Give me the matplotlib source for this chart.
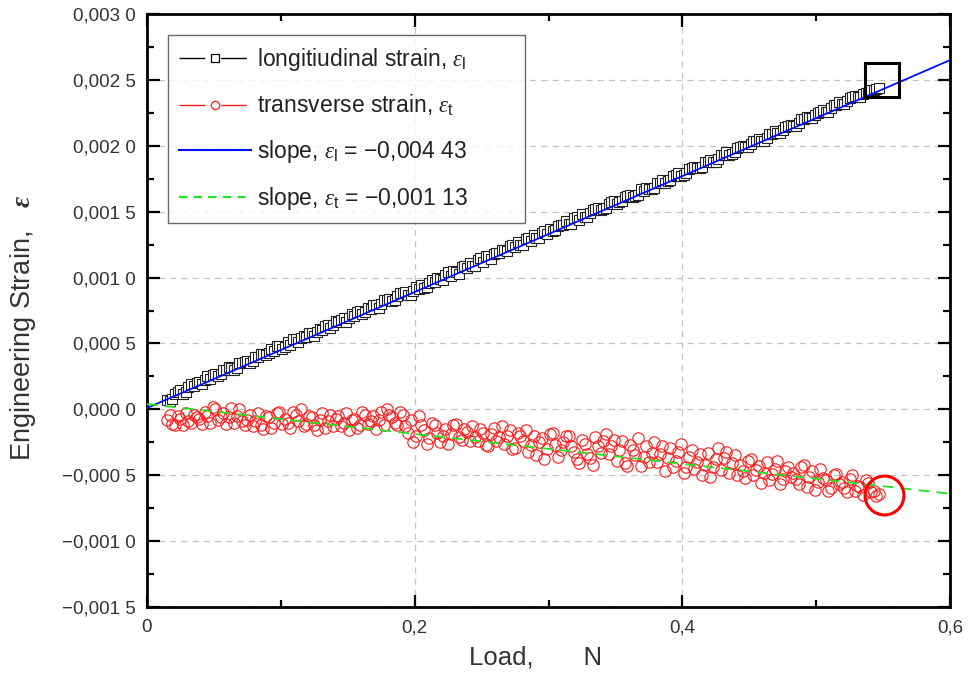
import numpy as np
import matplotlib
matplotlib.use("Agg")
import matplotlib.pyplot as plt
from matplotlib.lines import Line2D
from matplotlib.ticker import FixedLocator, MultipleLocator

plt.rcParams['font.family'] = ['Liberation Sans', 'DejaVu Sans']
plt.rcParams['mathtext.fontset'] = 'custom'
plt.rcParams['mathtext.rm'] = 'Liberation Sans'
plt.rcParams['mathtext.it'] = 'Liberation Serif:italic'
plt.rcParams['mathtext.bf'] = 'Liberation Serif:italic:bold'

# ---------------- data ----------------
# loads of reading set A
load_a = [0.015, 0.019, 0.023, 0.027, 0.031, 0.035, 0.039, 0.043, 0.047, 0.051,
          0.055, 0.059, 0.063, 0.067, 0.071, 0.075, 0.079, 0.083, 0.087, 0.091,
          0.095, 0.099, 0.103, 0.107, 0.111, 0.115, 0.119, 0.123, 0.127, 0.131,
          0.135, 0.139, 0.143, 0.147, 0.151, 0.155, 0.159, 0.163, 0.167, 0.171,
          0.175, 0.179, 0.183, 0.187, 0.191, 0.195, 0.199, 0.203, 0.207, 0.211,
          0.215, 0.219, 0.223, 0.227, 0.231, 0.235, 0.239, 0.243, 0.247, 0.251,
          0.255, 0.259, 0.263, 0.267, 0.271, 0.275, 0.279, 0.283, 0.287, 0.291,
          0.295, 0.299, 0.303, 0.307, 0.311, 0.315, 0.319, 0.323, 0.327, 0.331,
          0.335, 0.339, 0.343, 0.347, 0.351, 0.355, 0.359, 0.363, 0.367, 0.371,
          0.375, 0.379, 0.383, 0.387, 0.391, 0.395, 0.399, 0.403, 0.407, 0.411,
          0.415, 0.419, 0.423, 0.427, 0.431, 0.435, 0.439, 0.443, 0.447, 0.451,
          0.455, 0.459, 0.463, 0.467, 0.471, 0.475, 0.479, 0.483, 0.487, 0.491,
          0.495, 0.499, 0.503, 0.507, 0.511, 0.515, 0.519, 0.523, 0.527, 0.531,
          0.535, 0.539, 0.543, 0.547]

# loads of reading set B
load_b = [0.017, 0.021, 0.025, 0.029, 0.033, 0.037, 0.041, 0.045, 0.049, 0.053,
          0.057, 0.061, 0.065, 0.069, 0.073, 0.077, 0.081, 0.085, 0.089, 0.093,
          0.097, 0.101, 0.105, 0.109, 0.113, 0.117, 0.121, 0.125, 0.129, 0.133,
          0.137, 0.141, 0.145, 0.149, 0.153, 0.157, 0.161, 0.165, 0.169, 0.173,
          0.177, 0.181, 0.185, 0.189, 0.193, 0.197, 0.201, 0.205, 0.209, 0.213,
          0.217, 0.221, 0.225, 0.229, 0.233, 0.237, 0.241, 0.245, 0.249, 0.253,
          0.257, 0.261, 0.265, 0.269, 0.273, 0.277, 0.281, 0.285, 0.289, 0.293,
          0.297, 0.301, 0.305, 0.309, 0.313, 0.317, 0.321, 0.325, 0.329, 0.333,
          0.337, 0.341, 0.345, 0.349, 0.353, 0.357, 0.361, 0.365, 0.369, 0.373,
          0.377, 0.381, 0.385, 0.389, 0.393, 0.397, 0.401, 0.405, 0.409, 0.413,
          0.417, 0.421, 0.425, 0.429, 0.433, 0.437, 0.441, 0.445, 0.449, 0.453,
          0.457, 0.461, 0.465, 0.469, 0.473, 0.477, 0.481, 0.485, 0.489, 0.493,
          0.497, 0.501, 0.505, 0.509, 0.513, 0.517, 0.521, 0.525, 0.529, 0.533,
          0.537, 0.541, 0.545]

# longitudinal strain (units of 1e-4)
longitudinal_a_e4 = [0.7, 0.8, 1.3, 1.2, 1.7, 1.8, 2.1, 2.2, 2.3, 2.7,
                     2.7, 3.0, 3.1, 3.1, 3.5, 3.7, 3.7, 4.0, 4.2, 4.3,
                     4.4, 4.8, 4.7, 4.9, 5.3, 5.4, 5.5, 5.8, 5.9, 6.0,
                     6.4, 6.4, 6.6, 6.9, 6.9, 7.1, 7.5, 7.4, 7.6, 7.9,
                     8.0, 8.3, 8.2, 8.6, 8.8, 8.7, 9.0, 9.1, 9.2, 9.6,
                     9.7, 9.9, 10.2, 10.1, 10.4, 10.8, 10.7, 10.9, 11.3, 11.2,
                     11.6, 11.8, 11.9, 12.1, 12.4, 12.3, 12.5, 12.9, 12.8, 13.0,
                     13.4, 13.3, 13.5, 13.9, 14.0, 14.1, 14.5, 14.4, 14.6, 14.9,
                     15.2, 15.1, 15.3, 15.7, 15.6, 15.8, 16.2, 16.1, 16.3, 16.6,
                     16.7, 16.8, 17.2, 17.2, 17.4, 17.8, 17.7, 17.9, 18.3, 18.3,
                     18.4, 18.8, 18.8, 19.0, 19.3, 19.3, 19.5, 19.9, 19.9, 20.1,
                     20.4, 20.4, 20.6, 20.9, 21.0, 21.2, 21.5, 21.5, 21.7, 22.0,
                     22.1, 22.3, 22.6, 22.6, 22.9, 23.1, 23.2, 23.4, 23.7, 23.7,
                     23.9, 24.0, 24.2, 24.4]
longitudinal_b_e4 = [0.6, 1.2, 1.5, 1.3, 1.9, 2.0, 1.9, 2.5, 2.6, 2.5,
                     3.0, 3.2, 3.0, 3.5, 3.6, 3.5, 4.0, 4.2, 4.1, 4.6,
                     4.8, 4.6, 5.1, 5.3, 5.1, 5.6, 5.8, 5.6, 6.1, 6.3,
                     6.2, 6.7, 6.8, 6.6, 7.2, 7.4, 7.2, 7.7, 7.9, 7.7,
                     8.3, 8.4, 8.3, 8.8, 8.9, 8.7, 9.3, 9.4, 9.3, 9.8,
                     10.0, 9.8, 10.4, 10.5, 10.3, 10.9, 11.1, 10.9, 11.5, 11.6,
                     11.4, 11.9, 12.1, 12.0, 12.5, 12.7, 12.5, 13.0, 13.2, 13.0,
                     13.5, 13.7, 13.6, 14.0, 14.3, 14.1, 14.6, 14.8, 14.6, 15.1,
                     15.3, 15.2, 15.6, 15.8, 15.7, 16.1, 16.3, 16.2, 16.7, 16.8,
                     16.7, 17.2, 17.4, 17.3, 17.7, 17.9, 17.8, 18.2, 18.4, 18.3,
                     18.8, 18.9, 18.8, 19.3, 19.5, 19.4, 19.8, 20.0, 19.9, 20.4,
                     20.5, 20.4, 20.9, 21.1, 21.0, 21.4, 21.6, 21.5, 22.0, 22.2,
                     22.1, 22.5, 22.7, 22.6, 23.1, 23.3, 23.2, 23.6, 23.8, 23.7,
                     24.0, 24.2, 24.3]

# transverse strain (units of 1e-4)
transverse_a_e4 = [-0.8, -1.1, -0.5, -1.2, -0.9, -0.4, -0.7,
                   -0.2, -1.0, 0.0, -0.6, -1.1, 0.1, -0.5, -0.9,
                   -0.8, -1.3, -0.3, -1.5, -0.6, -1.0, -0.2,
                   -0.7, -1.4, -0.4, 0.0, -1.1, -0.6, -1.6, -0.3, -0.9, -1.3,
                   -0.5, -1.0, -1.6, -0.7, -1.2, -0.4, -0.9, -1.5, -0.2,
                   0.0, -0.6, -1.2, -0.4, -1.8, -2.5,
                   -0.5, -1.6, -2.2, -1.2, -2.5, -1.5, -1.9, -1.1, -2.3, -1.7,
                   -1.3, -2.4, -1.8, -2.8, -1.4, -2.1, -2.6, -1.6, -2.9, -2.0,
                   -1.6, -2.7, -3.5, -2.2, -3.0, -1.8, -3.6, -2.5,
                   -2.0, -3.2, -4.1, -2.6, -3.7, -2.1, -3.3,
                   -1.9, -2.8, -3.9, -2.4, -4.3, -3.1, -2.2, -3.6, -4.0,
                   -2.5, -3.4, -4.7, -2.9, -3.9, -2.6, -4.4,
                   -3.1, -4.0, -5.0, -3.3, -4.4, -2.9, -3.7, -4.8, -3.5,
                   -4.2, -5.2, -3.8, -4.6, -5.6, -4.0, -4.9, -3.9, -5.3, -4.4,
                   -4.8, -5.7, -4.2, -5.1, -6.1, -4.5, -5.4, -6.0, -4.9,
                   -5.5, -6.3, -5.0, -5.8, -6.5, -5.6, -6.2, -6.4]
transverse_b_e4 = [-0.4, -1.2, -0.7, -0.3, -1.0, -0.6, -1.1,
                   -0.5, 0.2, -0.8, -0.3, -0.6, -1.0, 0.0, -1.2,
                   -0.4, -0.9, -1.2, -0.5, -1.4, -0.3, -1.1,
                   -1.0, -0.2, -0.9, -1.3, -0.5, -1.2, -0.8, -1.4, -0.4, -0.7,
                   -1.3, -0.3, -0.8, -1.4, -0.2, -1.1, -0.5, -0.8, -1.2,
                   -0.4, -1.0, -0.2, -1.3, -0.8, -2.0,
                   -1.2, -2.6, -1.0, -1.8, -2.0, -2.6, -1.2, -2.1, -1.5, -2.4,
                   -2.1, -1.5, -2.7, -1.9, -2.4, -1.3, -2.0, -3.0, -1.8, -2.4,
                   -3.2, -2.0, -2.5, -3.8, -1.9, -2.7, -3.1, -2.0,
                   -2.8, -3.8, -2.3, -3.4, -4.2, -2.8, -2.4,
                   -3.4, -2.3, -3.1, -4.1, -2.7, -3.5, -4.3, -2.8, -3.3,
                   -4.0, -2.8, -3.7, -4.4, -3.2, -4.8, -3.6,
                   -4.5, -3.4, -4.2, -5.1, -3.8, -4.6, -3.2, -4.1, -5.0,
                   -4.7, -3.9, -5.0, -4.3, -4.8, -5.4, -4.5, -5.7, -4.7, -5.1,
                   -5.3, -4.4, -5.9, -4.7, -5.5, -5.2, -6.2, -5.0, -5.7,
                   -6.0, -5.3, -6.2, -5.9, -5.4, -6.3, -6.6]

# linear fits (end points)
fit_x = [0.0, 0.6]
fit_longitudinal = [0.00001, 0.00265]
fit_transverse = [0.00004, -0.00064]

# highlighted last points
mark_long_x, mark_long_y = 0.549, 0.00250
mark_trans_x, mark_trans_y = 0.551, -0.00065

x_ticks = [0.0, 0.2, 0.4, 0.6]
x_tick_labels = ["0", "0,2", "0,4", "0,6"]
y_ticks = [-0.0015, -0.0010, -0.0005, 0.0, 0.0005, 0.0010, 0.0015, 0.0020, 0.0025, 0.0030]
y_tick_labels = ["\u22120,001 5", "\u22120,001 0", "\u22120,000 5", "0,000 0", "0,000 5",
                 "0,001 0", "0,001 5", "0,002 0", "0,002 5", "0,003 0"]

legend_labels = ["longitiudinal strain, $\\varepsilon_{\\mathrm{l}}$",
                 "transverse strain, $\\varepsilon_{\\mathrm{t}}$",
                 "slope, $\\varepsilon_{\\mathrm{l}}$ = \u22120,004 43",
                 "slope, $\\varepsilon_{\\mathrm{t}}$ = \u22120,001 13"]

# ---------------- plot ----------------
W, H = 968, 684
fig = plt.figure(figsize=(W / 100, H / 100), dpi=100)
ax = fig.add_axes([147 / W, 1 - 607 / H, (950 - 147) / W, (607 - 14) / H])

lx = np.concatenate([load_a, load_b])
order = np.argsort(lx, kind='stable')
lx = lx[order]
trans = (np.concatenate([transverse_a_e4, transverse_b_e4]) * 1e-4)[order]
longi = (np.concatenate([longitudinal_a_e4, longitudinal_b_e4]) * 1e-4)[order]

ax.plot(lx, trans, ls='none', marker='o', ms=8.2,
        mfc='none', mec='#ff1a1a', mew=0.8, zorder=3)
ax.plot(lx, longi, ls='none', marker='s', ms=7.4,
        mfc='white', mec='#222222', mew=0.8, zorder=3)

ax.plot(fit_x, fit_longitudinal, color='#0010ff', lw=1.3, zorder=4)
ax.plot(fit_x, fit_transverse, color='#22e022', lw=1.3, ls=(0, (6, 4)), zorder=4)

ax.plot([mark_long_x], [mark_long_y], ls='none', marker='s', ms=24, mfc='none',
        mec='black', mew=2.2, zorder=5)
ax.plot([mark_trans_x], [mark_trans_y], ls='none', marker='o', ms=28, mfc='none',
        mec='#ff0000', mew=2.2, zorder=5)

ax.set_xlim(0, 0.6)
ax.set_ylim(-0.0015, 0.003)
ax.xaxis.set_major_locator(FixedLocator(x_ticks))
ax.set_xticklabels(x_tick_labels)
ax.xaxis.set_minor_locator(MultipleLocator(0.1))
ax.yaxis.set_major_locator(FixedLocator(y_ticks))
ax.set_yticklabels(y_tick_labels)
ax.yaxis.set_minor_locator(MultipleLocator(0.00025))

ax.tick_params(which='both', direction='in', top=True, right=True,
               colors='black', labelcolor='#333333')
ax.tick_params(which='major', length=9, width=1.6, pad=8)
ax.tick_params(axis='y', which='major', labelsize=13.5)
ax.tick_params(axis='x', which='major', labelsize=13.5, pad=9)
ax.tick_params(which='minor', length=5, width=1.6)
for sp in ax.spines.values():
    sp.set_linewidth(2.0)

ax.grid(True, which='major', color='#c4c4c4', ls=(0, (5, 4)), lw=0.9)
ax.set_axisbelow(True)

ax.set_xlabel("Load,       N", fontsize=18.5, color='#333333')
ax.xaxis.set_label_coords((536 - 147) / 803, (607 - 645) / 593)
ax.set_ylabel("Engineering Strain,   $\\mathbf{\\varepsilon}$", fontsize=19.5,
              color='#333333')
ax.yaxis.set_label_coords((38 - 147) / 803, (607 - 328) / 593)

gap_line = (0, (18.5, 11.5, 18.5, 200))
handles = [
    Line2D([], [], color='black', lw=1.0, ls=gap_line, marker='s', ms=6, mfc='white',
           mec='black', mew=0.9),
    Line2D([], [], color='#ff1a1a', lw=1.0, ls=gap_line, marker='o', ms=6, mfc='white',
           mec='#ff1a1a', mew=0.9),
    Line2D([], [], color='#0010ff', lw=1.5),
    Line2D([], [], color='#22e022', lw=1.5, ls=(0, (4, 3))),
]
leg = ax.legend(handles, legend_labels, loc='upper left',
                bbox_to_anchor=((168 - 147) / 803, 0.5, (525 - 168) / 803, (607 - 35) / 593 - 0.5),
                mode='expand', borderaxespad=0,
                fontsize=16.5, frameon=True, fancybox=False, edgecolor='#444444',
                handlelength=3.1, handletextpad=0.3, labelspacing=0.86,
                borderpad=0.5, numpoints=1)
leg.get_frame().set_linewidth(1.0)
for t in leg.get_texts():
    t.set_color('#222222')

fig.savefig("out.png", dpi=100)
